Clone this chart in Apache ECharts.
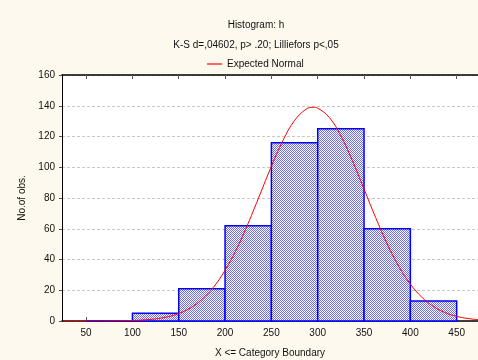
<!DOCTYPE html>
<html><head><meta charset="utf-8">
<script src="https://cdn.jsdelivr.net/npm/echarts@6/dist/echarts.min.js"></script>
<style>html,body{margin:0;padding:0;background:#fdf9ee;}#c{width:478px;height:360px;}</style>
</head><body><div id="c"></div>
<script>
// Histogram bins (lower, upper) and counts
const binLower = [50, 100, 150, 200, 250, 300, 350, 400];
const binUpper = [100, 150, 200, 250, 300, 350, 400, 450];
const counts   = [0, 5, 21, 62, 116, 125, 60, 13];
// Expected normal curve
const curveX = [25, 50, 75, 100, 112.5, 125, 137.5, 150, 162.5, 175, 187.5, 200, 212.5, 225, 237.5, 250, 262.5, 275, 287.5, 295, 300, 312.5, 325, 337.5, 350, 362.5, 375, 387.5, 400, 412.5, 425, 437.5, 450, 462.5, 475];
const curveY = [0, 0.01, 0.06, 0.32, 0.69, 1.39, 2.66, 4.87, 8.46, 14.0, 22.0, 33.0, 46.9, 63.6, 82.1, 100.6, 117.5, 130.4, 137.8, 139, 138.4, 132.4, 120.4, 104.2, 85.8, 67.3, 50.1, 35.5, 24.0, 15.4, 9.4, 5.45, 3.02, 1.59, 0.79];
const xTicks = [50, 100, 150, 200, 250, 300, 350, 400, 450];

// hatch pattern (fine checker / diagonal)
const pc = document.createElement('canvas');
pc.width = 2; pc.height = 2;
const g = pc.getContext('2d');
g.fillStyle = '#ffffff'; g.fillRect(0,0,2,2);
g.fillStyle = '#6b6bff';
g.fillRect(0,0,1,1); g.fillRect(1,1,1,1);
const hatch = {image: pc, repeat: 'repeat'};

const chart = echarts.init(document.getElementById('c'));
const font = 'Liberation Sans, Arial, sans-serif';
chart.setOption({
  backgroundColor: '#fdf9ee',
  animation: false,
  textStyle: {fontFamily: font},
  title: [
    {text: 'Histogram: h', left: 251, top: 15, textAlign: 'center',
     textStyle: {fontSize: 10, fontWeight: 'normal', color: '#111', fontFamily: font}},
    {text: 'K-S d=,04602, p> .20; Lilliefors p<,05', left: 251, top: 35, textAlign: 'center',
     textStyle: {fontSize: 10, fontWeight: 'normal', color: '#111', fontFamily: font}}
  ],
  legend: {
    data: ['Expected Normal'], left: 202, top: 54, itemWidth: 15, itemHeight: 1.2, icon: 'rect', itemGap: 5,
    textStyle: {fontSize: 10, color: '#111', fontFamily: font}
  },
  grid: {left: 62, right: 0, top: 75, bottom: 39, show: true, backgroundColor: '#ffffff', borderWidth: 0,
         outerBoundsMode: 'none', containLabel: false},
  xAxis: [{
    type: 'value', min: 24, max: 473,
    name: 'X <= Category Boundary', nameLocation: 'middle', nameGap: 27,
    nameTextStyle: {fontSize: 10, color: '#111', fontFamily: font},
    axisLine: {show: true, lineStyle: {color: '#000', width: 1.5}},
    axisTick: {show: true, inside: true, length: 4, customValues: xTicks, lineStyle: {color: '#555'}},
    axisLabel: {customValues: xTicks, fontSize: 10, color: '#111', margin: 7, fontFamily: font},
    splitLine: {show: false}
  }, {
    type: 'value', min: 24, max: 473, position: 'top',
    axisLine: {show: true, lineStyle: {color: '#000', width: 1.5}},
    axisTick: {show: true, inside: true, length: 4, customValues: xTicks, lineStyle: {color: '#555'}},
    axisLabel: {show: false},
    splitLine: {show: false}
  }],
  yAxis: {
    type: 'value', min: 0, max: 160, interval: 20,
    name: 'No.of obs.', nameLocation: 'middle', nameGap: 33,
    nameTextStyle: {fontSize: 10, color: '#111', fontFamily: font},
    axisLine: {show: true, lineStyle: {color: '#000', width: 1}},
    axisTick: {show: true, inside: false, length: 3, lineStyle: {color: '#555'}},
    axisLabel: {fontSize: 10, color: '#111', margin: 7, fontFamily: font},
    splitLine: {show: true, lineStyle: {color: '#c8c8c8', type: [3, 2], width: 1}}
  },
  series: [{
    type: 'custom', name: 'hist',
    data: binLower.map((l, i) => [l, binUpper[i], counts[i]]),
    encode: {x: [0, 1], y: 2},
    renderItem: function (params, api) {
      const p0 = api.coord([api.value(0), 0]);
      const p1 = api.coord([api.value(1), api.value(2)]);
      return {type: 'rect',
        shape: {x: p0[0], y: p1[1], width: p1[0] - p0[0], height: p0[1] - p1[1]},
        style: {fill: hatch, stroke: '#0000ff', lineWidth: 1.5}};
    },
    z: 2
  }, {
    type: 'line', name: 'Expected Normal',
    data: curveX.map((x, i) => [x, curveY[i]]),
    showSymbol: false, smooth: 0.4,
    lineStyle: {color: '#ff0000', width: 1},
    itemStyle: {color: '#ff0000'},
    z: 5
  }]
});
</script></body></html>
